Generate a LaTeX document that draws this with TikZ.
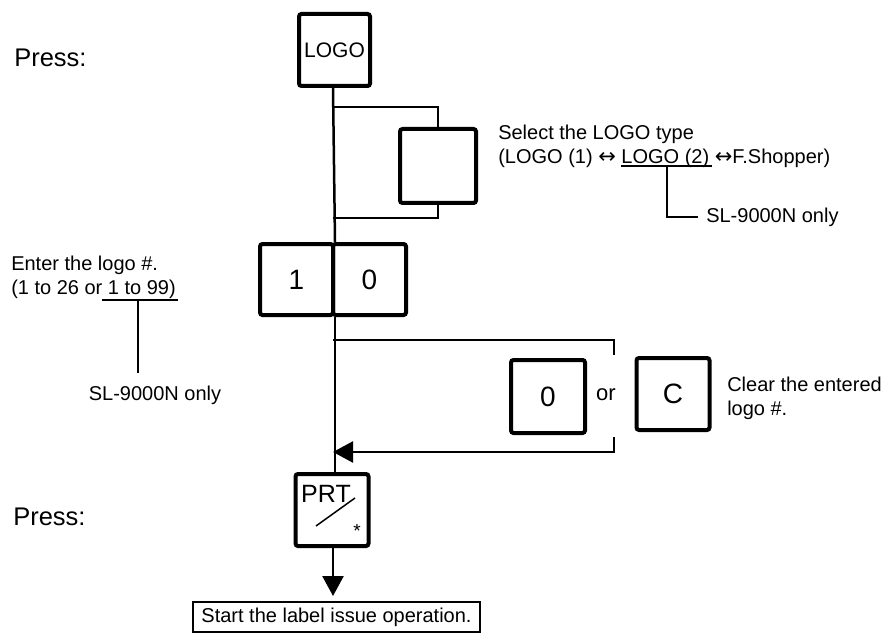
\documentclass[tikz,border=0pt]{standalone}
\usepackage{fontspec}
\setmainfont{Liberation Sans}
\newfontfamily\arrowfont{DejaVu Sans}
\usetikzlibrary{arrows.meta}
\newcommand{\biarrow}{{\arrowfont\fontsize{21}{21}\selectfont ↔}}

\begin{document}
\begin{tikzpicture}[x=1pt,y=-1pt,>={Triangle[length=20pt,width=21pt]},line width=2.5pt]
  \tikzstyle{key}=[draw, line width=4pt, rounded corners=2.5pt, minimum width=73pt, minimum height=72pt,
    inner sep=0pt, font=\fontsize{28}{28}\selectfont]
  \tikzstyle{note}=[inner sep=0pt, align=left, font=\fontsize{20}{24}\selectfont]
  \tikzstyle{press}=[inner sep=0pt, anchor=west, font=\fontsize{25.5}{25.5}\selectfont]
  \tikzstyle{thin}=[line width=1.5pt]

  \useasboundingbox (0,0) rectangle (893,644);

  \node[press] (press1) at (13,58) {Press:};
  \node[key, minimum width=71pt, font=\fontsize{21}{21}\selectfont] (logo) at (334.5,50) {LOGO};
  \node[key, minimum width=76pt, minimum height=74pt] (blank) at (438,166) {};
  \node[note, anchor=north west] (select) at (497,123.5) {Select the LOGO type\\(LOGO (1) \biarrow{} LOGO (2) \biarrow F.Shopper)};
  \node[note, anchor=west] (sl1) at (705,217) {SL-9000N only};

  \node[note, anchor=north west] (enter) at (10,254.5) {Enter the logo \#.\\(1 to 26 or 1 to 99)};
  \node[key, minimum height=71pt] (one) at (296.5,279.5) {1};
  \node[key, minimum height=71pt] (zero) at (369.5,279.5) {0};
  \node[note] (sl2) at (155,395) {SL-9000N only};

  \node[key, minimum width=74pt, minimum height=73pt] (zerokey) at (548,396.5) {0};
  \node[inner sep=0pt, font=\fontsize{22}{22}\selectfont] (or) at (606,395) {or};
  \node[key] (ckey) at (673,394) {C};
  \node[note, anchor=north west] (clear) at (726,375.5) {Clear the entered\\logo \#.};

  \node[press] (press2) at (12,517) {Press:};
  \node[key] (prt) at (332,510) {};
  \node[inner sep=0pt, font=\fontsize{25}{25}\selectfont] (prtlabel) at (326,494) {PRT};
  \node[inner sep=0pt, font=\fontsize{19}{19}\selectfont] (star) at (357,531) {*};
  \draw[thin] (316,526) -- (355,498);

  \node[draw, line width=2pt, minimum width=287pt, minimum height=30pt, inner sep=0pt,
    font=\fontsize{20}{20}\selectfont] (start) at (336.5,617) {Start the label issue operation.};

  \coordinate (j1) at (333,107);
  \coordinate (j2) at (333,218);
  \coordinate (j3) at (333,340);
  \coordinate (j4) at (333,452);
  \coordinate (g1) at (614,355);
  \coordinate (g2) at (614,437);
  \coordinate (tip) at (333,596);
  \coordinate (u1) at (667,166);
  \coordinate (u2) at (138,300);
  \coordinate (u2e) at (138,373);

  \draw (logo.south -| j1) -- (one.north east);
  \draw (j1) -| (blank.north);
  \draw (blank.south) |- (j2);
  \draw (one.south east) -- (one.south east |- prt.north);
  \draw (j3) -| (g1);
  \draw[->] (g2) |- (j4);
  \draw[->] (prt.south -| tip) -- (tip);

  \draw[thin] (621,166) -- (712,166);
  \draw[thin] (u1) |- ([xshift=-7pt]sl1.west);
  \draw[thin] (102,300) -- (178,300);
  \draw[thin] (u2) -- (u2e);
\end{tikzpicture}
\end{document}
